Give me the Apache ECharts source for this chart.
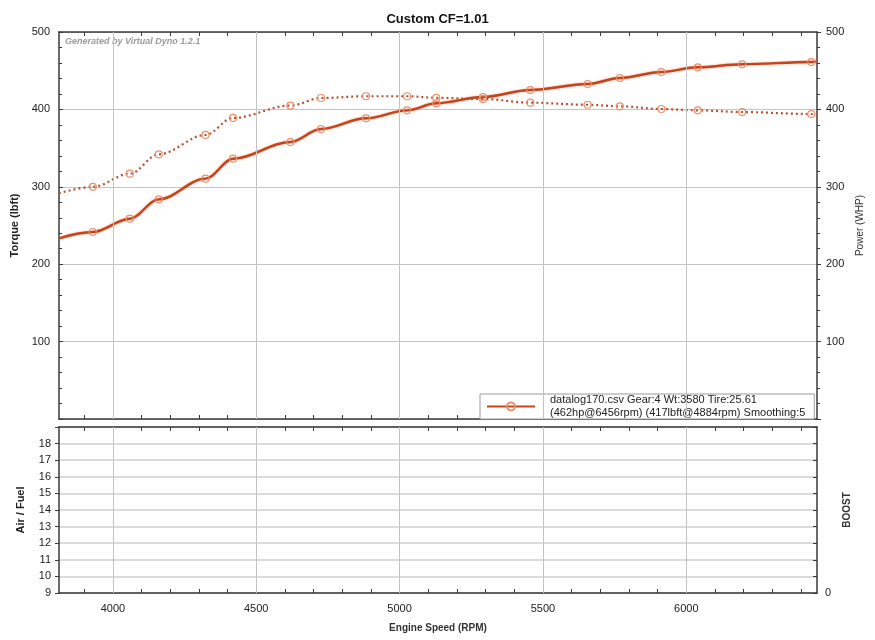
<!DOCTYPE html>
<html><head><meta charset="utf-8">
<script src="https://cdn.jsdelivr.net/npm/echarts@6/dist/echarts.min.js"></script>
<style>html,body{margin:0;padding:0;background:#fff}#c{width:875px;height:640px}</style>
</head><body><div id="c"></div>
<script>
// ---- data ----
var rpm =        [3812, 3930, 4059, 4160, 4323, 4419, 4619, 4726, 4883, 5026, 5128, 5291, 5456, 5656, 5768, 5913, 6040, 6195, 6436, 6456];
var power =      [233.4, 241.6, 258.8, 283.8, 310.5, 336.3, 357.9, 374.7, 388.5, 398.8, 407.9, 416.0, 425.0, 432.8, 440.6, 448.3, 454.4, 458.3, 461.2, 462.0];
var torque =     [291.6, 300.0, 317.0, 342.0, 367.0, 389.0, 405.0, 414.7, 417.0, 417.0, 415.0, 413.4, 408.7, 406.0, 404.0, 400.5, 398.8, 396.6, 394.0, 393.5];
var rpmLabels = [4000, 4500, 5000, 5500, 6000];
var rpmTicks = [3900, 4000, 4100, 4200, 4300, 4400, 4500, 4600, 4700, 4800, 4900, 5000, 5100, 5200, 5300, 5400, 5500, 5600, 5700, 5800, 5900, 6000, 6100, 6200, 6300, 6400];
var legendLine1 = 'datalog170.csv Gear:4 Wt:3580 Tire:25.61';
var legendLine2 = '(462hp@6456rpm) (417lbft@4884rpm) Smoothing:5';
var titleText = 'Custom CF=1.01';
var watermark = 'Generated by Virtual Dyno 1.2.1';

var FONT = 'Liberation Sans';
var RMIN = 3812, RMAX = 6456;

function pairs(xs, ys) {
  return xs.map(function (x, i) {
    var p = { value: [x, ys[i]] };
    if (i === 0 || i === xs.length - 1) p.symbol = 'none';
    return p;
  });
}

var axisLineStyle = { color: '#3a3a3a', width: 1.5 };
var labelStyle = { fontFamily: FONT, fontSize: 11, color: '#222' };

function xAx(grid, pos, withLabels) {
  return {
    type: 'value', gridIndex: grid, position: pos, min: RMIN, max: RMAX, splitNumber: 5,
    axisLine: { show: true, onZero: false, lineStyle: axisLineStyle },
    axisTick: { show: true, inside: true, length: 4, customValues: rpmTicks, lineStyle: { color: '#3a3a3a' } },
    axisLabel: withLabels ? Object.assign({ show: true, margin: 10, customValues: rpmLabels,
      formatter: function (v) { return String(v); } }, labelStyle) : { show: false },
    splitLine: { show: false },
    name: withLabels ? 'Engine Speed (RPM)' : '',
    nameLocation: 'middle', nameGap: 30,
    nameTextStyle: { fontFamily: FONT, fontSize: 10, fontWeight: 'bold', color: '#333' }
  };
}

function vGrid() {
  return {
    silent: true, symbol: 'none', animation: false,
    label: { show: false },
    lineStyle: { color: '#c4c4c4', width: 1, type: 'solid' },
    emphasis: { disabled: true },
    data: rpmLabels.map(function (v) { return { xAxis: v }; })
  };
}

var option = {
  backgroundColor: '#fff',
  animation: false,
  title: {
    text: titleText, left: 'center', top: 8,
    textStyle: { fontFamily: FONT, fontSize: 13, fontWeight: 'bold', color: '#111' }
  },
  graphic: [{
    type: 'text', left: 65, top: 37,
    style: { text: watermark, font: 'italic bold 9px "Liberation Sans"', fill: '#9a9a9a' }
  }],
  legend: {
    data: [legendLine1],
    left: 480, top: 394,
    orient: 'vertical',
    backgroundColor: '#fff', borderColor: '#9a9a9a', borderWidth: 1,
    padding: [0, 9, 0, 6],
    itemWidth: 48, itemHeight: 10,
    formatter: function (n) { return n + '\n' + legendLine2; },
    textStyle: { fontFamily: FONT, fontSize: 11, color: '#222', lineHeight: 12.5, padding: [0, 0, 0, 10] }
  },
  grid: [
    { left: 59, right: 58, top: 32, height: 387 },
    { left: 59, right: 58, top: 427, height: 166 }
  ],
  xAxis: [xAx(0, 'bottom', false), xAx(0, 'top', false), xAx(1, 'bottom', true), xAx(1, 'top', false)],
  yAxis: [
    {
      type: 'value', gridIndex: 0, position: 'left', min: 0, max: 500, interval: 100,
      axisLine: { show: true, lineStyle: axisLineStyle },
      axisTick: { show: true, inside: true, length: 4, lineStyle: { color: '#3a3a3a' } },
      minorTick: { show: true, splitNumber: 5, length: 3, lineStyle: { color: '#3a3a3a' } },
      axisLabel: Object.assign({ margin: 9, formatter: function (v) { return v === 0 ? '' : v; } }, labelStyle),
      splitLine: { show: true, lineStyle: { color: '#c4c4c4' } },
      name: 'Torque (lbft)', nameLocation: 'middle', nameGap: 38, nameRotate: 90,
      nameTextStyle: { fontFamily: FONT, fontSize: 11, fontWeight: 'bold', color: '#222' }
    },
    {
      type: 'value', gridIndex: 0, position: 'right', min: 0, max: 500, interval: 100,
      axisLine: { show: true, lineStyle: axisLineStyle },
      axisTick: { show: true, inside: false, length: 4, lineStyle: { color: '#3a3a3a' } },
      minorTick: { show: true, splitNumber: 5, length: 3, lineStyle: { color: '#3a3a3a' } },
      axisLabel: Object.assign({ margin: 9, formatter: function (v) { return v === 0 ? '' : v; } }, labelStyle),
      splitLine: { show: false },
      name: 'Power (WHP)', nameLocation: 'middle', nameGap: 38, nameRotate: 90,
      nameTextStyle: { fontFamily: FONT, fontSize: 10, color: '#333' }
    },
    {
      type: 'value', gridIndex: 1, position: 'left', min: 9, max: 19, interval: 1,
      axisLine: { show: true, lineStyle: axisLineStyle },
      axisTick: { show: true, inside: false, length: 4, lineStyle: { color: '#3a3a3a' } },
      axisLabel: Object.assign({ margin: 8, formatter: function (v) { return v === 19 ? '' : v; } }, labelStyle),
      splitLine: { show: true, lineStyle: { color: '#cfcfcf', width: 1.5 } },
      name: 'Air / Fuel', nameLocation: 'middle', nameGap: 33, nameRotate: 90,
      nameTextStyle: { fontFamily: FONT, fontSize: 11, fontWeight: 'bold', color: '#222' }
    },
    {
      type: 'value', gridIndex: 1, position: 'right', min: 0, max: 10, interval: 1,
      axisLine: { show: true, lineStyle: axisLineStyle },
      axisTick: { show: true, inside: true, length: 4, lineStyle: { color: '#3a3a3a' } },
      axisLabel: Object.assign({ margin: 8, formatter: function (v) { return v === 0 ? '0' : ''; } }, labelStyle),
      splitLine: { show: false },
      name: 'BOOST', nameLocation: 'middle', nameGap: 24, nameRotate: 90,
      nameTextStyle: { fontFamily: FONT, fontSize: 10, fontWeight: 'bold', color: '#333' }
    }
  ],
  series: [
    {
      name: legendLine1, type: 'line', xAxisIndex: 0, yAxisIndex: 1,
      data: pairs(rpm, power), smooth: 0.35, smoothMonotone: 'x',
      symbol: 'circle', symbolSize: 7, showAllSymbol: true,
      lineStyle: { color: '#c4441e', width: 2.4, shadowColor: 'rgba(240,110,60,0.7)', shadowBlur: 2 },
      itemStyle: { color: 'rgba(255,255,255,0)', borderColor: '#e8906c', borderWidth: 1.2 },
      z: 4
    },
    {
      name: 'Torque', type: 'line', xAxisIndex: 0, yAxisIndex: 0,
      data: pairs(rpm, torque), smooth: 0.35, smoothMonotone: 'x',
      symbol: 'circle', symbolSize: 7, showAllSymbol: true,
      lineStyle: { color: '#b9502e', width: 2.2, type: [2, 3] },
      itemStyle: { color: 'rgba(255,255,255,0)', borderColor: '#e8906c', borderWidth: 1.2 },
      z: 4
    },
    {
      name: 'grid0', type: 'line', xAxisIndex: 0, yAxisIndex: 0, z: 1,
      data: [], markLine: vGrid()
    },
    {
      name: 'AFR', type: 'line', xAxisIndex: 2, yAxisIndex: 2, z: 1,
      data: [], markLine: vGrid()
    }
  ]
};
var chart = echarts.init(document.getElementById('c'));
chart.setOption(option);
</script>
</body></html>
